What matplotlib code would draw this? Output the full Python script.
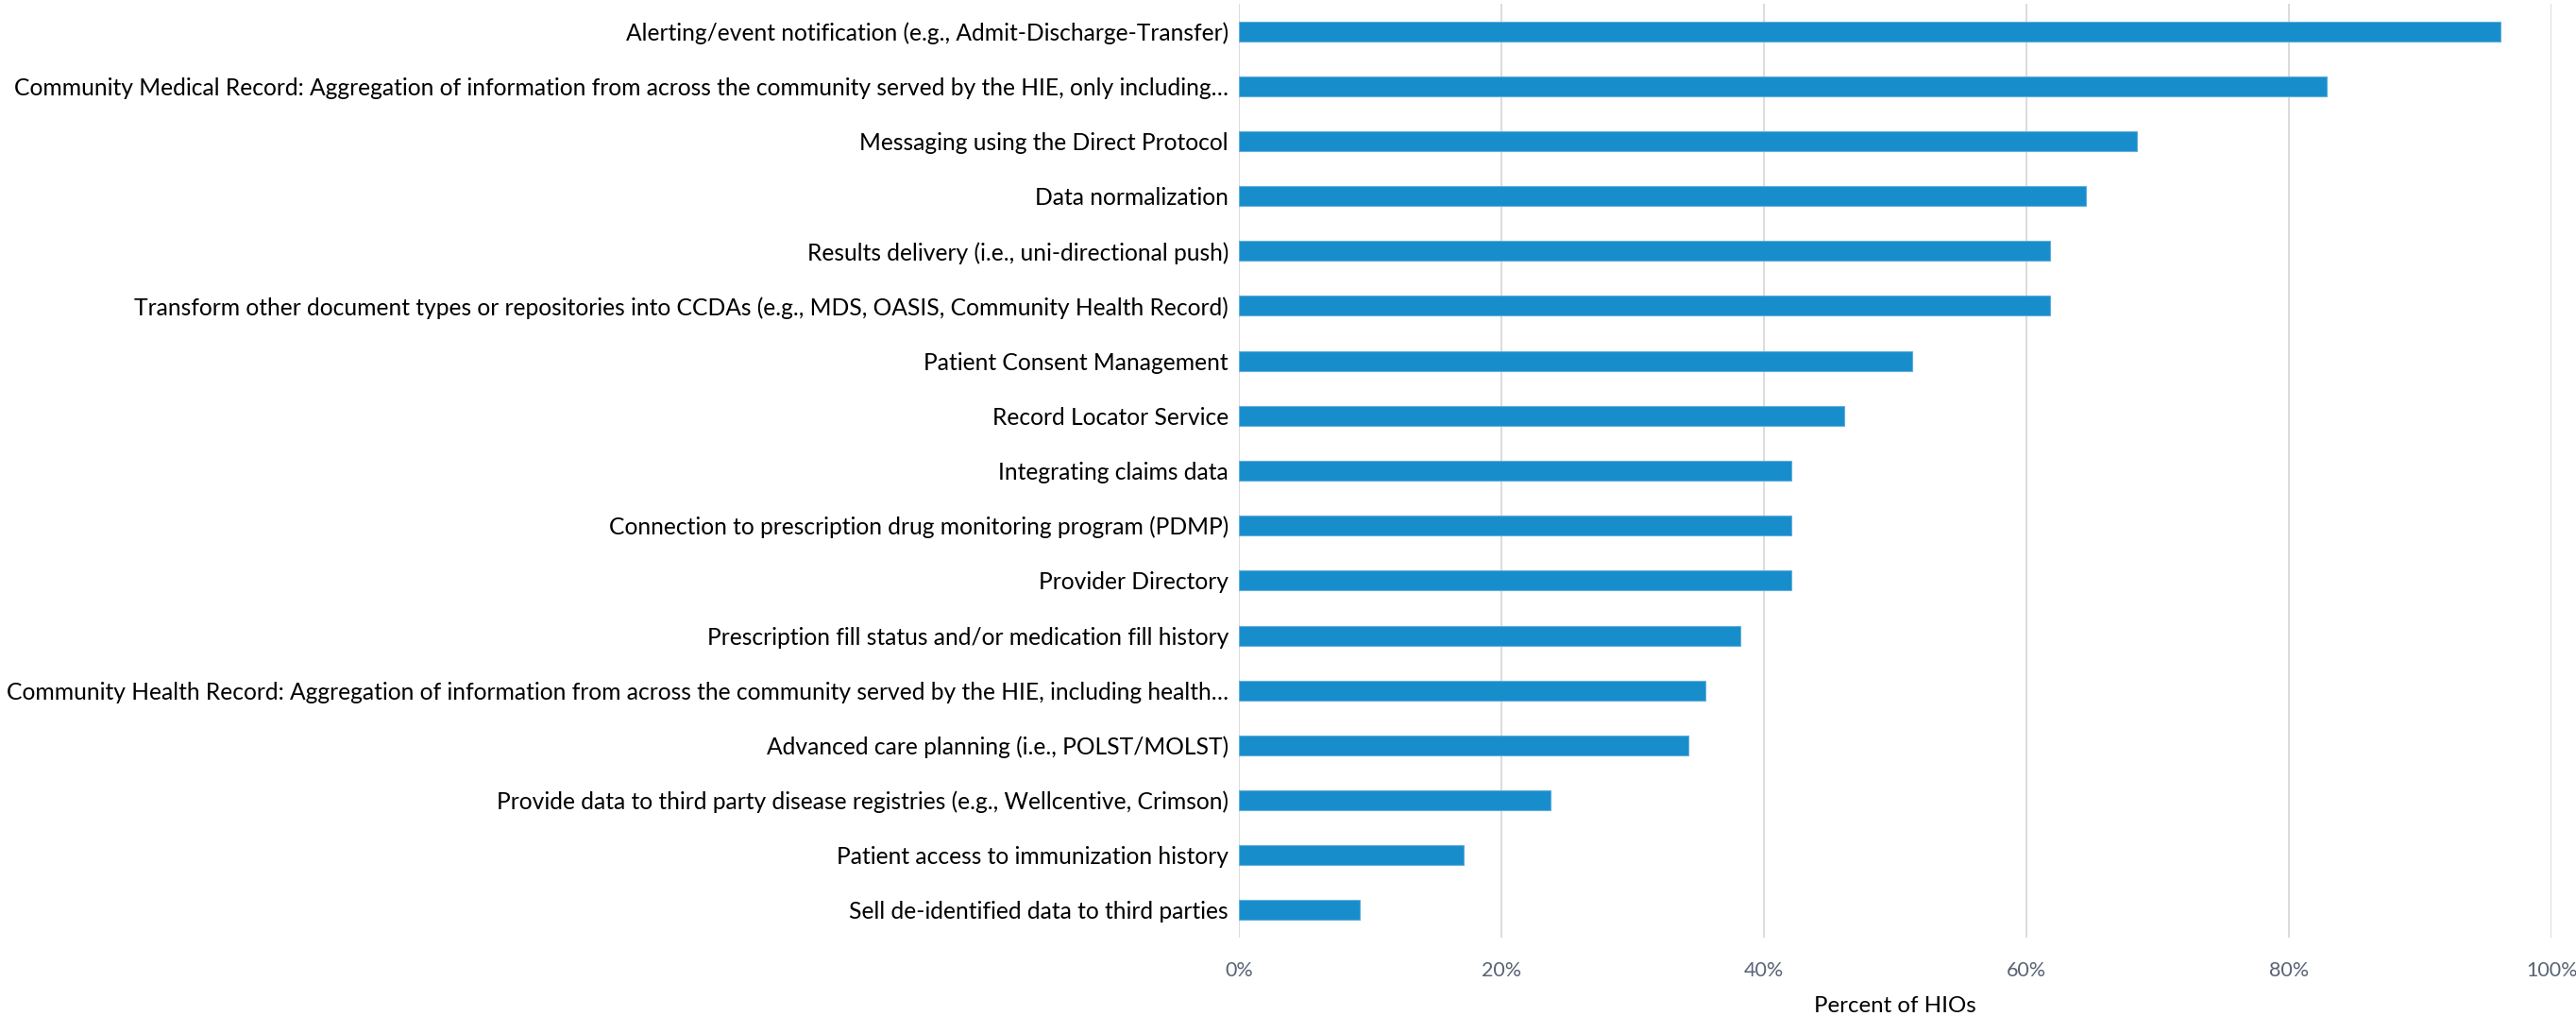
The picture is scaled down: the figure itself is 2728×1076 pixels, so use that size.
import matplotlib.pyplot as plt
from matplotlib.ticker import PercentFormatter

plt.rcParams['font.family'] = ['Lato', 'DejaVu Sans']

# Services offered, top to bottom, with share of HIOs offering each (%)
services = [
    "Alerting/event notification (e.g., Admit-Discharge-Transfer)",
    "Community Medical Record: Aggregation of information from across the community served by the HIE, only including\u2026",
    "Messaging using the Direct Protocol",
    "Data normalization",
    "Results delivery (i.e., uni-directional push)",
    "Transform other document types or repositories into CCDAs (e.g., MDS, OASIS, Community Health Record)",
    "Patient Consent Management",
    "Record Locator Service",
    "Integrating claims data",
    "Connection to prescription drug monitoring program (PDMP)",
    "Provider Directory",
    "Prescription fill status and/or medication fill history",
    "Community Health Record: Aggregation of information from across the community served by the HIE, including health\u2026",
    "Advanced care planning (i.e., POLST/MOLST)",
    "Provide data to third party disease registries (e.g., Wellcentive, Crimson)",
    "Patient access to immunization history",
    "Sell de-identified data to third parties",
]
percent_hios = [96.1, 82.9, 68.4, 64.5, 61.8, 61.8, 51.3, 46.1, 42.1, 42.1,
                42.1, 38.2, 35.5, 34.2, 23.7, 17.1, 9.2]
x_ticks = [0, 20, 40, 60, 80, 100]

fig = plt.figure(figsize=(27.28, 10.76), dpi=100)
ax = fig.add_axes([0.481, 0.0771, 0.5095, 0.9192])

y = list(range(len(services)))
ax.barh(y, percent_hios, height=0.36, color='#188DCB',
        edgecolor='#62AEDB', linewidth=0.8, zorder=3)

ax.set_xlim(0, 100)
ax.set_ylim(len(services) - 0.5, -0.5)
ax.set_xticks(x_ticks)
ax.xaxis.set_major_formatter(PercentFormatter(decimals=0))
ax.set_yticks(y)
ax.set_yticklabels(services, fontsize=17.7, color='black')

ax.grid(axis='x', color='#D9D9D9', linewidth=1.3, zorder=0)
for side in ['top', 'right', 'bottom', 'left']:
    ax.spines[side].set_visible(False)
ax.tick_params(axis='both', length=0)
ax.tick_params(axis='y', pad=8)
ax.tick_params(axis='x', labelsize=15.5, labelcolor='#586374', pad=18)

ax.set_xlabel("Percent of HIOs", fontsize=17.3, color='black', labelpad=12)

fig.savefig('out.png', dpi=100)
